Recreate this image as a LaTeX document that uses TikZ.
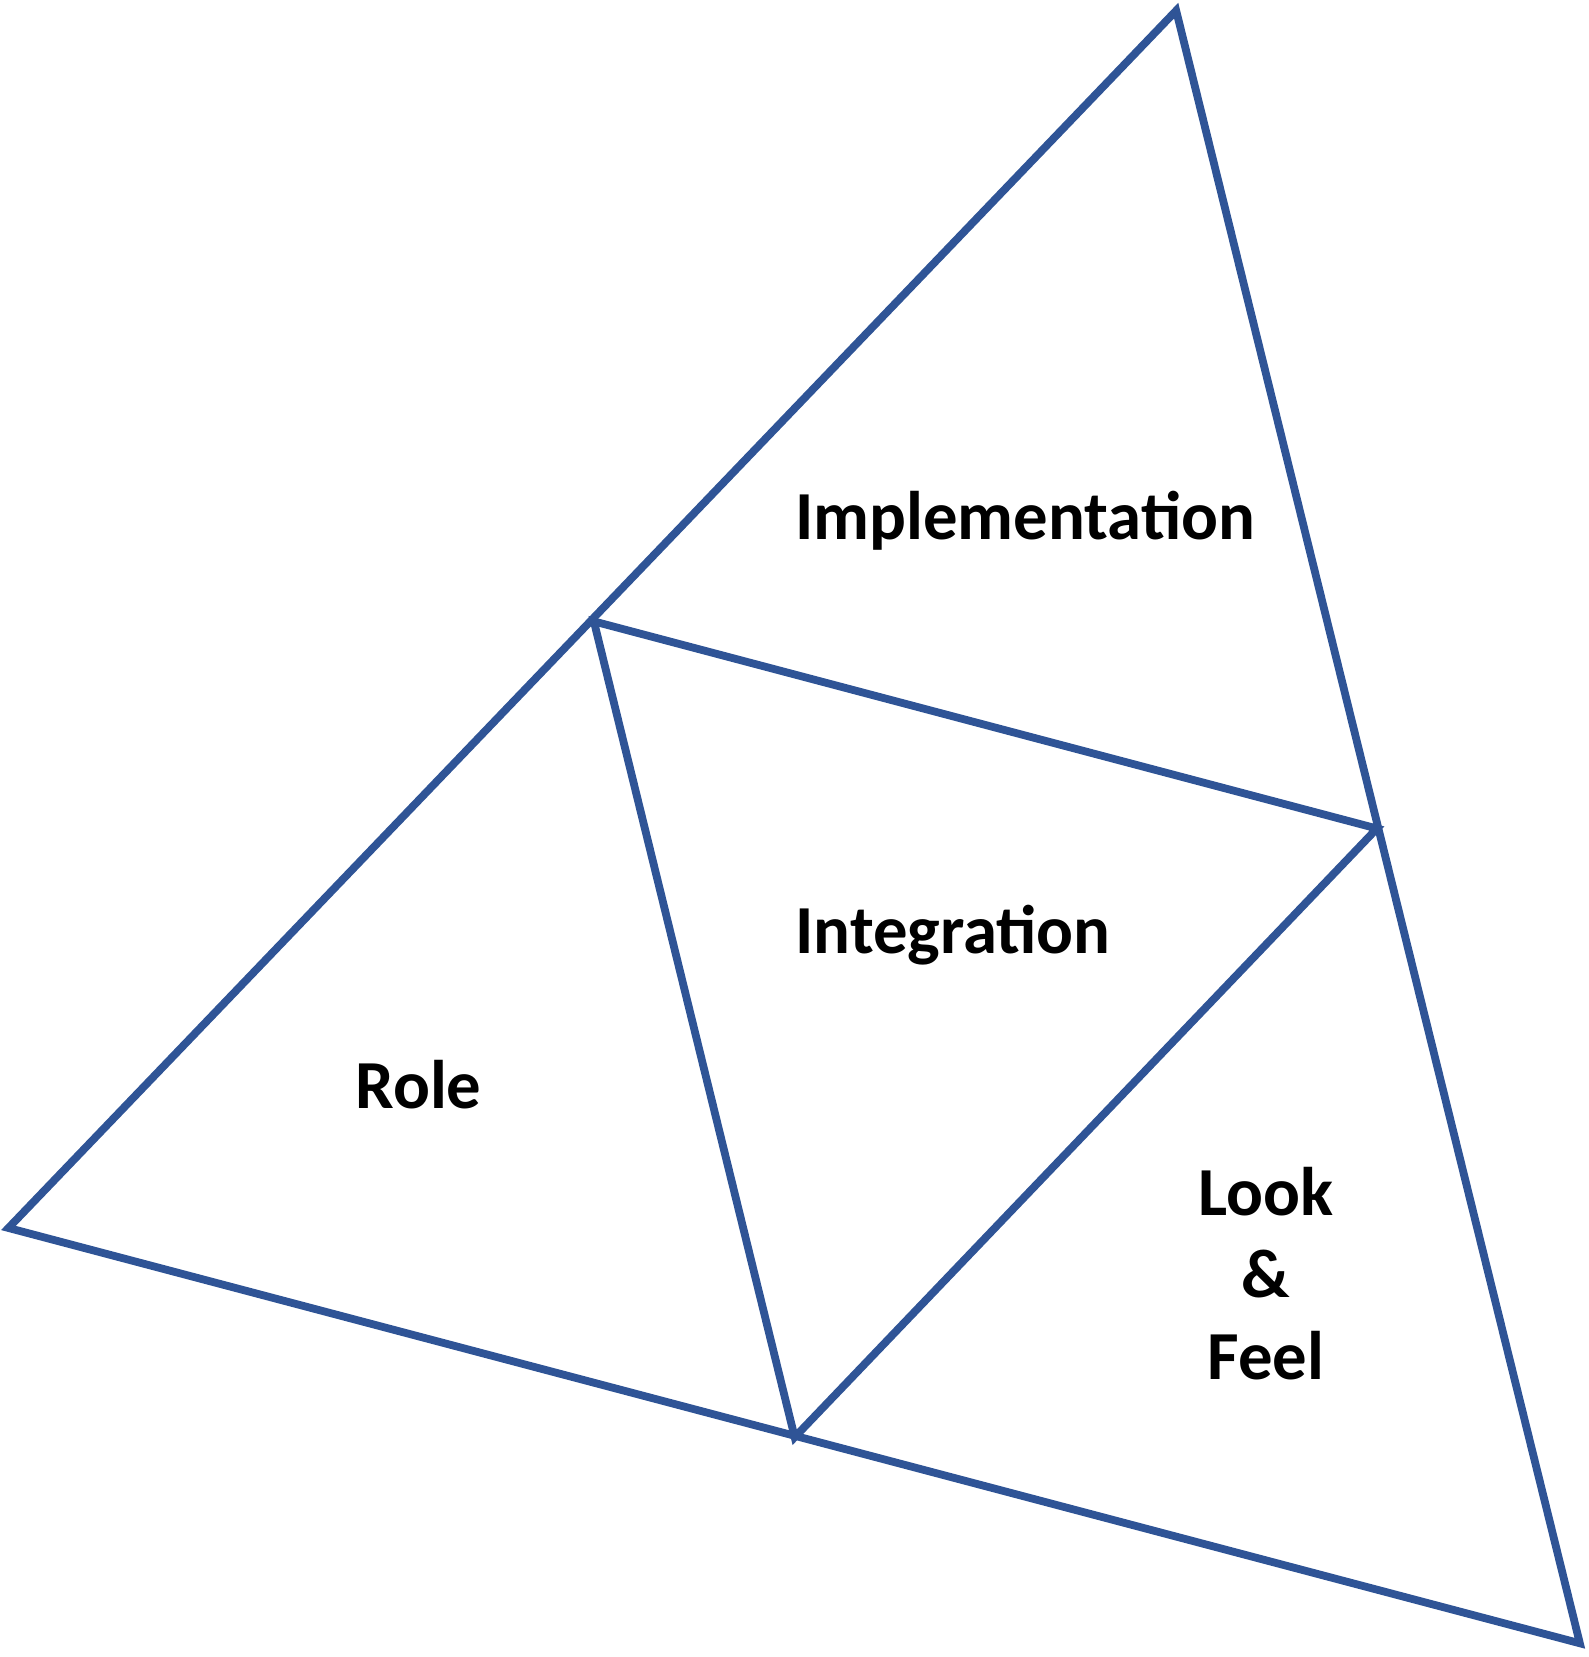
\documentclass[tikz,border=0pt]{standalone}
\usepackage{fontspec}
\setmainfont{Carlito}
\definecolor{edgeblue}{HTML}{2F5496}
\begin{document}
\begin{tikzpicture}[x=0.01cm,y=-0.01cm,
  side/.style={draw=edgeblue,line width=2.1pt,line join=miter},
  lbl/.style={font=\fontsize{18.5}{22}\selectfont\bfseries,align=center}]
  \useasboundingbox (0,0) rectangle (1503,1568);

  \coordinate (top) at (1113,10);
  \coordinate (left) at (8,1162);
  \coordinate (right) at (1495,1555);
  \coordinate (midL) at (562,588);
  \coordinate (midR) at (1303,784);
  \coordinate (midB) at (752,1360);

  \draw[side] (top) -- (left) -- (right) -- cycle;
  \draw[side] (midL) -- (midR) -- (midB) -- cycle;

  \node[lbl] (impl) at (970,493) {Implementation};
  \node[lbl] (integ) at (902,885) {Integration};
  \node[lbl] (role) at (396,1026) {Role};
  \node[lbl,text width=3cm] (look) at (1198,1205) {Look\\\&\\Feel};
\end{tikzpicture}
\end{document}
